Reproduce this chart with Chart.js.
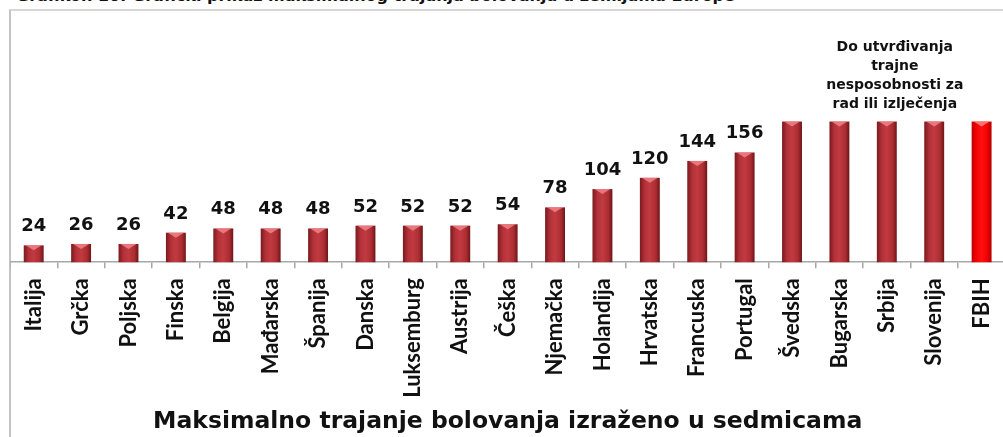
<!DOCTYPE html>
<html>
<head>
<meta charset="utf-8">
<script src="https://cdn.jsdelivr.net/npm/chart.js"></script>
<style>
  html, body { margin: 0; padding: 0; background: #fff; overflow: hidden; }
  body { width: 1003px; height: 437px; position: relative; font-family: "DejaVu Sans", sans-serif; }
  #naslov {
    position: absolute; left: 16px; top: -14px; white-space: nowrap;
    font: bold 16px "DejaVu Sans", sans-serif; color: #111;
  }
  #okvir {
    position: absolute; left: 9px; top: 9px; right: -5px; bottom: -5px;
    border-left: 2px solid #c4c4c4; border-top: 2px solid #d6d6d6;
  }
  #wrap { position: absolute; left: 10px; top: 9px; width: 1008px; height: 428px; }
</style>
</head>
<body>
<div id="naslov">Grafikon 10: Grafički prikaz maksimalnog trajanja bolovanja u zemljama Europe</div>
<div id="okvir"></div>
<div id="wrap"><canvas id="bolovanje"></canvas></div>
<script>
// podaci
const zemlje = ['Italija', 'Grčka', 'Poljska', 'Finska', 'Belgija', 'Mađarska', 'Španija', 'Danska',
  'Luksemburg', 'Austrija', 'Češka', 'Njemačka', 'Holandija', 'Hrvatska', 'Francuska', 'Portugal',
  'Švedska', 'Bugarska', 'Srbija', 'Slovenija', 'FBIH'];
// sedmice (zemlje bez ograničenja nacrtane kao visoki stupci)
const sedmice = [24, 26, 26, 42, 48, 48, 48, 52, 52, 52, 54, 78, 104, 120, 144, 156, 200, 200, 200, 200, 200];
const oznake = ['24', '26', '26', '42', '48', '48', '48', '52', '52', '52', '54', '78', '104', '120', '144', '156', '', '', '', '', ''];
const napomena = ['Do utvrđivanja', 'trajne', 'nesposobnosti za', 'rad ili izlječenja'];
const naslovOsi = 'Maksimalno trajanje bolovanja izraženo u sedmicama';

// 3D izgled stupaca
const stupciPlugin = {
  id: 'stupci',
  afterDatasetsDraw(chart) {
    const ctx = chart.ctx;
    const meta = chart.getDatasetMeta(0);
    meta.data.forEach((bar, i) => {
      const w = bar.width, x0 = bar.x - w / 2, top = bar.y, h = bar.base - bar.y;
      const fbih = zemlje[i] === 'FBIH';
      const g = ctx.createLinearGradient(x0, 0, x0 + w, 0);
      if (fbih) {
        g.addColorStop(0, '#b80000'); g.addColorStop(0.2, '#f00000');
        g.addColorStop(0.5, '#ff1010'); g.addColorStop(0.8, '#f00000'); g.addColorStop(1, '#b00000');
      } else {
        g.addColorStop(0, '#7a1a1c'); g.addColorStop(0.25, '#b3313a');
        g.addColorStop(0.5, '#c23a40'); g.addColorStop(0.8, '#aa2d32'); g.addColorStop(1, '#6e1517');
      }
      ctx.save();
      ctx.fillStyle = g;
      ctx.fillRect(x0, top, w, h);
      // gornji odsjaj
      ctx.fillStyle = fbih ? 'rgba(255,140,140,0.8)' : 'rgba(240,130,135,0.85)';
      ctx.beginPath();
      ctx.moveTo(x0 + 2, top);
      ctx.lineTo(x0 + w - 2, top);
      ctx.lineTo(bar.x, top + 5);
      ctx.closePath();
      ctx.fill();
      ctx.restore();
    });
  }
};

// vrijednosti iznad stupaca
const oznakePlugin = {
  id: 'oznake',
  afterDraw(chart) {
    const ctx = chart.ctx;
    const meta = chart.getDatasetMeta(0);
    ctx.save();
    ctx.fillStyle = '#111';
    ctx.textAlign = 'center';
    ctx.textBaseline = 'alphabetic';
    ctx.font = 'bold 18px "DejaVu Sans"';
    meta.data.forEach((bar, i) => {
      if (oznake[i]) ctx.fillText(oznake[i], bar.x, bar.y - 14);
    });
    // napomena iznad visokih stupaca
    const i1 = zemlje.indexOf('Švedska'), i2 = zemlje.indexOf('FBIH');
    const cx = (meta.data[i1].x + meta.data[i2].x) / 2 + 8;
    const vrh = meta.data[i1].y;
    ctx.font = 'bold 14px "DejaVu Sans"';
    napomena.forEach((red, k) => {
      ctx.fillText(red, cx, vrh - 14 - (napomena.length - 1 - k) * 18.7);
    });
    ctx.restore();
  }
};

new Chart(document.getElementById('bolovanje'), {
  type: 'bar',
  data: {
    labels: zemlje,
    datasets: [{
      data: sedmice,
      backgroundColor: 'rgba(0,0,0,0)',
      barPercentage: 0.42,
      categoryPercentage: 1
    }]
  },
  options: {
    responsive: true,
    maintainAspectRatio: false,
    animation: false,
    layout: { padding: { top: 0, bottom: 1, left: 0, right: 0 } },
    plugins: {
      legend: { display: false },
      tooltip: { enabled: false }
    },
    scales: {
      x: {
        offset: true,
        border: { display: true, color: '#a8a8a8', width: 1.5 },
        grid: { display: true, offset: true, drawOnChartArea: false, drawTicks: true, tickLength: 6, color: '#a8a8a8', lineWidth: 1.5 },
        ticks: {
          minRotation: 90, maxRotation: 90, autoSkip: false,
          color: '#111', padding: 10,
          font: { family: 'Lato', weight: 'bold', size: 22 }
        },
        title: {
          display: true, text: naslovOsi, color: '#111',
          font: { family: 'DejaVu Sans', weight: 'bold', size: 23.5 },
          padding: { top: 0, bottom: 0 }
        }
      },
      y: {
        display: false,
        min: 0,
        max: 360
      }
    }
  },
  plugins: [stupciPlugin, oznakePlugin]
});
</script>
</body>
</html>
